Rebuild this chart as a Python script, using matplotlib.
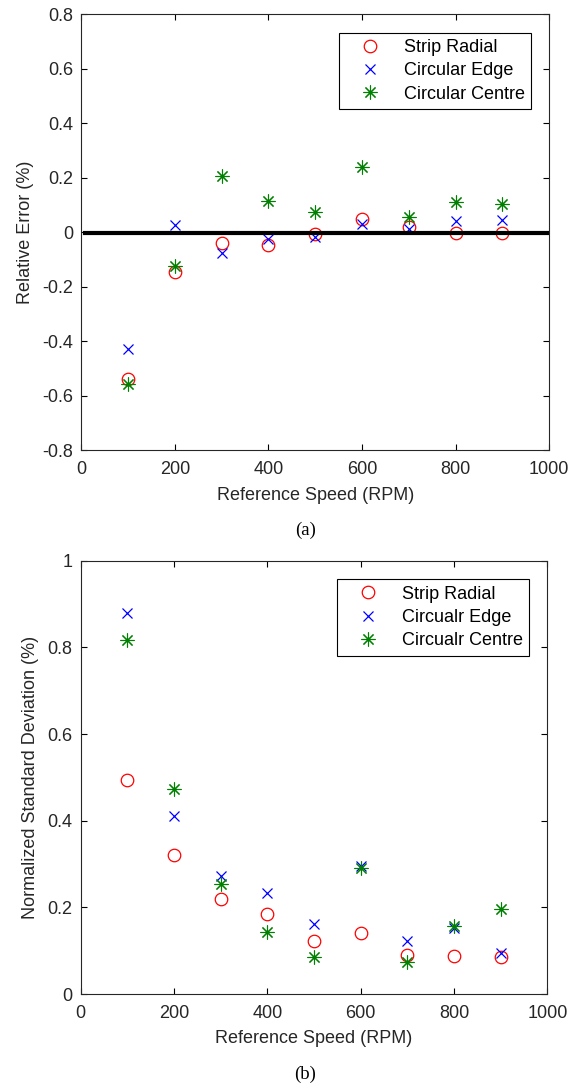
import matplotlib
matplotlib.use("Agg")
import matplotlib.pyplot as plt

plt.rcParams["font.family"] = ["Liberation Sans", "DejaVu Sans"]
plt.rcParams["font.size"] = 13

speed = [100, 200, 300, 400, 500, 600, 700, 800, 900]

# (a) relative error (%)
err_strip = [-0.537, -0.145, -0.039, -0.048, -0.006, 0.049, 0.018, -0.005, -0.003]
err_edge = [-0.428, 0.027, -0.077, -0.027, -0.017, 0.028, 0.013, 0.042, 0.044]
err_centre = [-0.558, -0.124, 0.206, 0.114, 0.075, 0.240, 0.055, 0.110, 0.102]
zero_x = [8, 996]
zero_y = [-0.004, -0.004]

# (b) normalized standard deviation (%)
std_strip = [0.494, 0.321, 0.220, 0.185, 0.122, 0.141, 0.090, 0.088, 0.085]
std_edge = [0.880, 0.410, 0.272, 0.234, 0.161, 0.296, 0.123, 0.153, 0.095]
std_centre = [0.818, 0.473, 0.253, 0.144, 0.085, 0.290, 0.074, 0.157, 0.197]

labels_a = ["Strip Radial", "Circular Edge", "Circular Centre"]
labels_b = ["Strip Radial", "Circualr Edge", "Circualr Centre"]

green = (0, 0.5, 0)
star = (8, 2, 0)
text_col = "#262626"

fig = plt.figure(figsize=(5.82, 10.86), dpi=100)
ax1 = fig.add_axes([0.1397, 0.5854, 0.8041, 0.4017])
ax2 = fig.add_axes([0.1387, 0.0847, 0.8017, 0.3990])


def draw(ax, s, e, c, labels):
    ax.plot(speed, s, linestyle="none", marker="o", ms=9, mfc="none", mec="r", mew=0.9, label=labels[0])
    ax.plot(speed, e, linestyle="none", marker="x", ms=7, color="b", mew=0.9, label=labels[1])
    ax.plot(speed, c, linestyle="none", marker=star, ms=10, color=green, mew=0.8, label=labels[2])


draw(ax1, err_strip, err_edge, err_centre, labels_a)
ax1.plot(zero_x, zero_y, color="k", lw=3)
draw(ax2, std_strip, std_edge, std_centre, labels_b)

ax1.set_ylim(-0.8, 0.8)
ax1.set_yticks([-0.8, -0.6, -0.4, -0.2, 0, 0.2, 0.4, 0.6, 0.8])
ax1.set_yticklabels(["-0.8", "-0.6", "-0.4", "-0.2", "0", "0.2", "0.4", "0.6", "0.8"])
ax1.set_ylabel("Relative Error (%)", color=text_col, labelpad=6)

ax2.set_ylim(0, 1)
ax2.set_yticks([0, 0.2, 0.4, 0.6, 0.8, 1])
ax2.set_yticklabels(["0", "0.2", "0.4", "0.6", "0.8", "1"])
ax2.set_ylabel("Normalized Standard Deviation (%)", color=text_col, labelpad=6)

for ax in (ax1, ax2):
    ax.set_xlim(0, 1000)
    ax.set_xticks([0, 200, 400, 600, 800, 1000])
    ax.set_xlabel("Reference Speed (RPM)", color=text_col, labelpad=6)
    ax.tick_params(direction="in", length=4, width=0.8, top=True, right=True,
                   labelcolor=text_col)
    ax.tick_params(axis="x", pad=8)
    ax.tick_params(axis="y", pad=6)
    for sp in ax.spines.values():
        sp.set_linewidth(0.8)
        sp.set_color(text_col)
    leg = ax.legend(loc="upper right", bbox_to_anchor=(0.961, 0.957), frameon=True,
                    fancybox=False, edgecolor="k", framealpha=1, borderpad=0.35,
                    handlelength=2.8, handletextpad=0.45, labelspacing=0.35,
                    borderaxespad=0, numpoints=1)
    leg.get_frame().set_linewidth(0.8)

fig.text(0.5242, 1 - 530 / 1086, "(a)", ha="center", va="center",
         family=["Liberation Serif", "DejaVu Serif"], fontsize=13.5)
fig.text(0.5242, 1 - 1074 / 1086, "(b)", ha="center", va="center",
         family=["Liberation Serif", "DejaVu Serif"], fontsize=13.5)

fig.savefig("out.png", dpi=100)
